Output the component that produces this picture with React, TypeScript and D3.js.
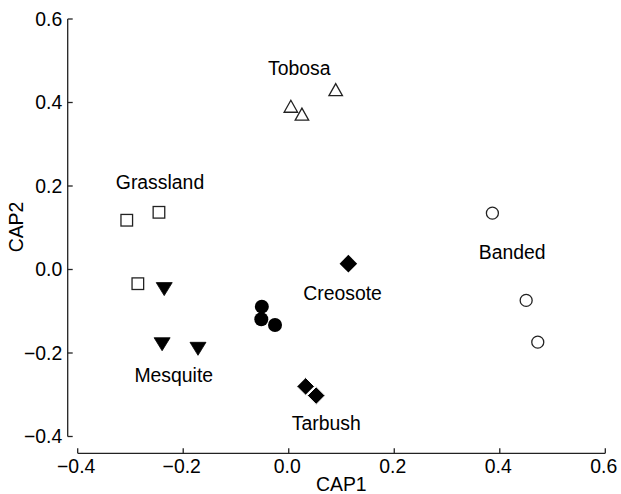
import React from "react";
import * as d3 from "d3";

const xTicks = [-0.4, -0.2, 0.0, 0.2, 0.4, 0.6];
const yTicks = [-0.4, -0.2, 0.0, 0.2, 0.4, 0.6];

const grasslandX = [-0.307, -0.246, -0.286];
const grasslandY = [0.118, 0.137, -0.034];
const mesquiteX = [-0.236, -0.24, -0.172];
const mesquiteY = [-0.047, -0.179, -0.19];
const creosoteCircX = [-0.051, -0.052, -0.026];
const creosoteCircY = [-0.089, -0.119, -0.133];
const tobosaX = [0.004, 0.025, 0.089];
const tobosaY = [0.391, 0.372, 0.431];
const creosoteX = [0.113];
const creosoteY = [0.014];
const tarbushX = [0.032, 0.052];
const tarbushY = [-0.28, -0.302];
const bandedX = [0.386, 0.45, 0.472];
const bandedY = [0.135, -0.074, -0.174];

const labelNames = ["Tobosa", "Grassland", "Banded", "Creosote", "Mesquite", "Tarbush"];
const labelX = [0.02, -0.244, 0.4235, 0.102, -0.218, 0.071];
const labelY = [0.467, 0.194, 0.024, -0.073, -0.269, -0.384];

const FONT = "'Liberation Sans', Arial, Helvetica, sans-serif";
const FS = 19.4;

export default function App() {
  const x = d3.scaleLinear().domain([-0.4, 0.6]).range([77.7, 605.3]);
  const y = d3.scaleLinear().domain([-0.4, 0.6]).range([436.5, 19]);
  const fmt = d3.format(".1f");
  const axisY = 453.3;
  const axisX = 67.7;
  const stroke = "#222";
  const sw = 1.3;

  const pts = (xs: number[], ys: number[]) => xs.map((v, i) => [x(v), y(ys[i])]);

  const upTri = (w: number, h: number) => `M0,${-h / 2}L${w / 2},${h / 2}L${-w / 2},${h / 2}Z`;
  const downTri = (w: number, h: number) => `M${-w / 2},${-h / 2}L${w / 2},${-h / 2}L0,${h / 2}Z`;
  const diamond = (r: number) => `M0,${-r}L${r},0L0,${r}L${-r},0Z`;

  return (
    <svg width={621} height={494} style={{ position: "absolute", left: 0, top: 0, background: "#fff" }}>
      <rect width={621} height={494} fill="#fff" />
      {/* Y axis */}
      <line x1={axisX} x2={axisX} y1={y(0.6)} y2={y(-0.4)} stroke={stroke} strokeWidth={sw} />
      {yTicks.map((t) => (
        <g key={"yt" + t}>
          <line x1={axisX} x2={axisX + 5} y1={y(t)} y2={y(t)} stroke={stroke} strokeWidth={sw} />
          <text x={62.3} y={y(t)} dy="0.36em" textAnchor="end" fontFamily={FONT} fontSize={FS} fill="#000">
            {fmt(t)}
          </text>
        </g>
      ))}
      {/* X axis */}
      <line x1={x(-0.4)} x2={x(0.6)} y1={axisY} y2={axisY} stroke={stroke} strokeWidth={sw} />
      {xTicks.map((t) => (
        <g key={"xt" + t}>
          <line x1={x(t)} x2={x(t)} y1={axisY} y2={axisY - 5} stroke={stroke} strokeWidth={sw} />
          <text x={x(t) - 1.5} y={473} textAnchor="middle" fontFamily={FONT} fontSize={FS} fill="#000">
            {fmt(t)}
          </text>
        </g>
      ))}
      <text x={341.3} y={491} textAnchor="middle" fontFamily={FONT} fontSize={FS} fill="#000">CAP1</text>
      <text transform={`translate(22.5,227) rotate(-90)`} textAnchor="middle" fontFamily={FONT} fontSize={FS} fill="#000">CAP2</text>

      {/* Grassland squares */}
      {pts(grasslandX, grasslandY).map(([px, py], i) => (
        <rect key={"g" + i} x={px - 5.8} y={py - 5.8} width={11.6} height={11.6} fill="#fff" stroke={stroke} strokeWidth={sw} />
      ))}
      {/* Mesquite down triangles */}
      {pts(mesquiteX, mesquiteY).map(([px, py], i) => (
        <path key={"m" + i} d={downTri(16, 13)} transform={`translate(${px},${py})`} fill="#000" stroke="#000" strokeWidth={0.8} />
      ))}
      {/* filled circles */}
      {pts(creosoteCircX, creosoteCircY).map(([px, py], i) => (
        <circle key={"c" + i} cx={px} cy={py} r={7} fill="#000" />
      ))}
      {/* Tobosa up triangles */}
      {pts(tobosaX, tobosaY).map(([px, py], i) => (
        <path key={"t" + i} d={upTri(13.5, 12)} transform={`translate(${px},${py})`} fill="#fff" stroke={stroke} strokeWidth={sw} />
      ))}
      {/* Creosote diamond */}
      {pts(creosoteX, creosoteY).map(([px, py], i) => (
        <path key={"cr" + i} d={diamond(8.8)} transform={`translate(${px},${py})`} fill="#000" />
      ))}
      {/* Tarbush diamonds */}
      {pts(tarbushX, tarbushY).map(([px, py], i) => (
        <path key={"tb" + i} d={diamond(8.8)} transform={`translate(${px},${py})`} fill="#000" stroke="#fff" strokeWidth={1} />
      ))}
      {/* Banded open circles */}
      {pts(bandedX, bandedY).map(([px, py], i) => (
        <circle key={"b" + i} cx={px} cy={py} r={6} fill="#fff" stroke={stroke} strokeWidth={sw} />
      ))}
      {/* Group labels */}
      {labelNames.map((n, i) => (
        <text key={n} x={x(labelX[i])} y={y(labelY[i])} textAnchor="middle" fontFamily={FONT} fontSize={FS} fill="#000">
          {n}
        </text>
      ))}
    </svg>
  );
}
